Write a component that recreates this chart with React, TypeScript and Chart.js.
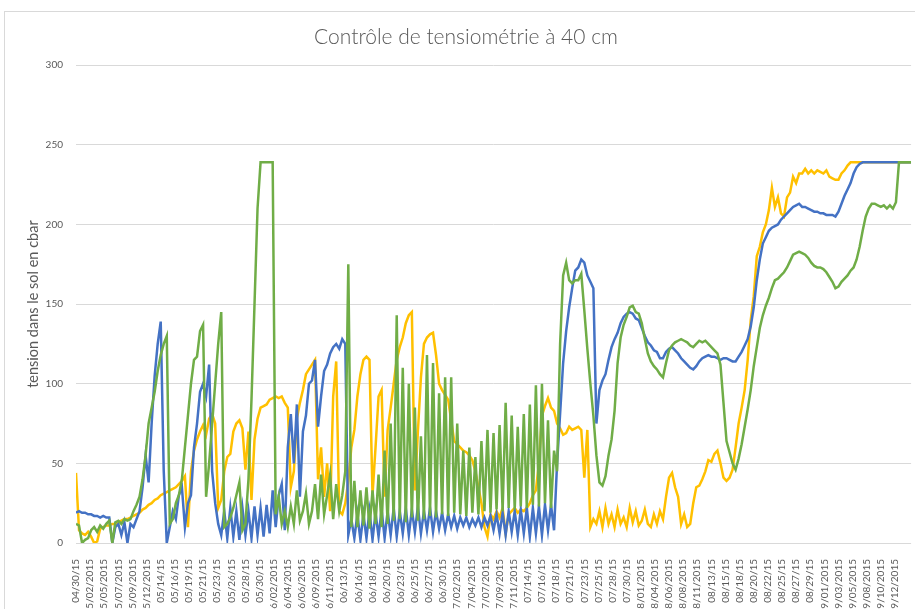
import { useEffect, useRef } from "react";
import { Chart, registerables } from "chart.js";

Chart.register(...registerables);

const TITLE = "Contrôle de tensiométrie à 40 cm";
const Y_TITLE = "tension dans le sol en cbar";

// Date tick labels (one every 7/3 days, as in the original workbook axis)
const tickLabels = [
  "04/30/15", "05/02/2015", "05/05/2015", "05/07/2015", "05/09/2015", "05/12/2015",
  "05/14/15", "05/16/15", "05/19/15", "05/21/15", "05/23/15", "05/26/15", "05/28/15",
  "05/30/15", "06/02/2015", "06/04/2015", "06/06/2015", "06/09/2015", "06/11/2015",
  "06/13/15", "06/16/15", "06/18/15", "06/20/15", "06/23/15", "06/25/15", "06/27/15",
  "06/30/15", "07/02/2015", "07/04/2015", "07/07/2015", "07/09/2015", "07/11/2015",
  "07/14/15", "07/16/15", "07/18/15", "07/21/15", "07/23/15", "07/25/15", "07/28/15",
  "07/30/15", "08/01/2015", "08/04/2015", "08/06/2015", "08/08/2015", "08/11/2015",
  "08/13/15", "08/15/15", "08/18/15", "08/20/15", "08/22/15", "08/25/15", "08/27/15",
  "08/29/15", "09/01/2015", "09/03/2015", "09/05/2015", "09/08/2015", "09/10/2015",
  "09/12/2015",
];
const DAYS_PER_TICK = 7 / 3;
const SAMPLES_PER_DAY = 2; // readings every 12 h starting 04/30/15
const LAST_DAY = 138;

// blue sensor (cbar), two readings per day
const blue = [
  19, 20, 19, 19, 18, 18, 17, 17, 16, 17,
  16, 16, 0, 10, 12, 5, 13, 0, 12, 10,
  15, 20, 35, 55, 38, 75, 105, 125, 139, 45,
  0, 10, 20, 15, 30, 35, 10, 25, 30, 60,
  75, 95, 100, 92, 112, 45, 25, 12, 5, 20,
  3, 22, 4, 20, 2, 22, 5, 20, 3, 23,
  5, 22, 4, 24, 6, 33, 10, 30, 37, 8,
  60, 81, 50, 87, 29, 70, 80, 100, 102, 115,
  73, 92, 108, 112, 119, 123, 125, 122, 128, 125,
  5, 15, 3, 18, 2, 18, 3, 20, 2, 19,
  4, 21, 3, 20, 5, 22, 4, 20, 6, 22,
  5, 21, 7, 23, 6, 20, 8, 22, 7, 20,
  9, 19, 8, 18, 10, 17, 9, 16, 11, 16,
  10, 15, 11, 16, 10, 16, 11, 17, 8, 18,
  6, 19, 5, 20, 7, 20, 5, 21, 6, 22,
  4, 22, 6, 23, 5, 24, 8, 24, 8, 50,
  81, 113, 133, 148, 160, 171, 173, 178, 176, 168,
  164, 160, 75, 96, 102, 106, 115, 123, 128, 132,
  138, 142, 144, 145, 144, 141, 140, 135, 130, 126,
  124, 121, 120, 116, 116, 120, 122, 123, 121, 119,
  116, 114, 112, 110, 109, 111, 114, 116, 117, 118,
  117, 117, 116, 115, 116, 116, 115, 114, 114, 117,
  120, 124, 128, 136, 148, 165, 178, 188, 192, 196,
  198, 199, 200, 203, 205, 207, 209, 211, 212, 213,
  211, 211, 210, 209, 208, 208, 207, 207, 206, 206,
  206, 205, 208, 213, 218, 222, 226, 232, 236, 238,
  239, 239, 239, 239, 239, 239, 239, 239, 239, 239,
  239, 239, 239, 239, 239, 239,
  239,
];

// orange sensor
const orange = [
  44, 8, 6, 5, 7, 4, 0, 1, 9, 10,
  11, 11, 12, 12, 13, 14, 15, 15, 16, 17,
  18, 19, 21, 22, 24, 25, 27, 28, 30, 31,
  32, 33, 34, 35, 37, 39, 42, 10, 45, 58,
  65, 70, 74, 68, 78, 81, 75, 22, 27, 45,
  54, 56, 70, 75, 77, 72, 46, 70, 27, 65,
  78, 85, 86, 87, 90, 91, 92, 91, 92, 88,
  85, 35, 45, 78, 88, 96, 106, 109, 112, 115,
  40, 60, 29, 50, 20, 92, 114, 20, 18, 25,
  39, 60, 71, 92, 106, 115, 117, 115, 30, 60,
  92, 96, 29, 71, 85, 100, 115, 123, 129, 138,
  143, 145, 33, 70, 104, 125, 129, 131, 132, 118,
  100, 96, 93, 90, 77, 64, 62, 60, 58, 57,
  55, 52, 45, 35, 25, 10, 4, 18, 15, 20,
  16, 22, 6, 18, 20, 22, 19, 21, 20, 22,
  25, 30, 33, 50, 80, 86, 91, 85, 83, 75,
  72, 68, 69, 73, 71, 72, 73, 71, 41, 71,
  10, 15, 12, 20, 10, 22, 12, 18, 10, 21,
  12, 16, 10, 22, 13, 20, 11, 14, 21, 12,
  10, 18, 12, 20, 15, 29, 41, 44, 35, 29,
  12, 18, 10, 12, 25, 35, 36, 40, 45, 52,
  51, 56, 58, 50, 41, 39, 41, 46, 60, 75,
  85, 96, 115, 140, 155, 180, 186, 195, 200, 209,
  223, 211, 217, 207, 205, 217, 220, 230, 226, 232,
  232, 235, 232, 234, 232, 234, 233, 232, 234, 230,
  229, 228, 228, 232, 234, 237, 239, 239, 239, 239,
  239, 239, 239, 239, 239, 239, 239, 239, 239, 239,
  239, 239, 239, 239, 239, 239,
  239,
];

// green sensor
const green = [
  12, 11, 0, 2, 3, 8, 10, 7, 11, 9,
  12, 14, 0, 13, 14, 12, 15, 14, 15, 20,
  24, 29, 40, 55, 75, 85, 95, 108, 118, 125,
  130, 12, 15, 25, 30, 40, 60, 80, 100, 115,
  117, 133, 137, 29, 50, 75, 100, 125, 145, 10,
  12, 16, 22, 30, 38, 8, 12, 40, 90, 150,
  210, 239, 239, 239, 239, 239, 18, 29, 12, 20,
  10, 23, 12, 33, 14, 20, 31, 12, 20, 37,
  15, 43, 18, 30, 43, 15, 37, 20, 30, 45,
  175, 10, 39, 10, 33, 11, 35, 9, 33, 12,
  43, 10, 58, 12, 75, 14, 143, 15, 110, 13,
  100, 16, 85, 14, 67, 15, 118, 17, 113, 16,
  94, 18, 104, 17, 104, 19, 75, 18, 58, 17,
  60, 19, 54, 18, 64, 20, 71, 19, 69, 21,
  74, 20, 88, 22, 80, 21, 73, 23, 81, 22,
  87, 24, 99, 23, 100, 25, 77, 22, 58, 45,
  125, 168, 176, 165, 163, 165, 165, 169, 146, 122,
  100, 80, 55, 38, 36, 42, 55, 65, 83, 113,
  129, 137, 142, 148, 149, 145, 144, 138, 128, 119,
  114, 111, 109, 106, 104, 113, 121, 124, 126, 127,
  128, 127, 126, 124, 123, 125, 127, 126, 127, 125,
  123, 121, 119, 112, 88, 64, 57, 50, 46, 53,
  62, 73, 84, 96, 111, 123, 135, 143, 149, 154,
  160, 165, 166, 168, 170, 173, 177, 181, 182, 183,
  182, 181, 179, 176, 174, 173, 173, 172, 170, 167,
  164, 160, 161, 164, 166, 168, 171, 173, 178, 186,
  196, 205, 210, 213, 213, 212, 211, 212, 210, 212,
  210, 214, 239, 239, 239, 239,
  239,
];

const TEXT = "#595959";
const FONT = "Lato, 'Open Sans', sans-serif";

export default function App() {
  const ref = useRef<HTMLCanvasElement | null>(null);

  useEffect(() => {
    if (!ref.current) return;
    const days = blue.map((_, i) => i / SAMPLES_PER_DAY);
    const line = (data: number[], color: string) => ({
      data,
      borderColor: color,
      backgroundColor: color,
      borderWidth: 2.5,
      pointRadius: 0,
      tension: 0,
      fill: false,
    });
    const chart = new Chart(ref.current, {
      type: "line",
      data: {
        labels: days,
        datasets: [
          line(green, "#70AD47"),
          line(blue, "#4472C4"),
          line(orange, "#FFC000"),
        ],
      },
      options: {
        responsive: false,
        animation: false,
        events: [],
        layout: { padding: { left: 20, right: 3, top: 0, bottom: 0 } },
        plugins: {
          legend: { display: false },
          tooltip: { enabled: false },
          title: {
            display: true,
            text: TITLE,
            color: TEXT,
            font: { family: FONT, size: 21, weight: "300" as any, lineHeight: 1.2 },
            padding: { top: 25, bottom: 15 },
          },
        },
        scales: {
          x: {
            type: "linear",
            min: 0,
            max: LAST_DAY,
            grid: { display: false },
            border: { display: false },
            afterBuildTicks: (s: any) => {
              s.ticks = tickLabels.map((_, k) => ({ value: k * DAYS_PER_TICK }));
            },
            afterFit: (s: any) => {
              s.height = 66;
            },
            ticks: {
              autoSkip: false,
              minRotation: 90,
              maxRotation: 90,
              padding: 8,
              color: TEXT,
              font: { family: FONT, size: 10 },
              callback: (_v: any, i: number) => tickLabels[i],
            },
          },
          y: {
            min: 0,
            max: 300,
            border: { display: false },
            grid: { color: "#D9D9D9", drawTicks: false, lineWidth: 1 },
            ticks: {
              stepSize: 50,
              padding: 13,
              color: TEXT,
              font: { family: FONT, size: 10 },
            },
            title: {
              display: true,
              text: Y_TITLE,
              color: TEXT,
              font: { family: FONT, size: 14.5 },
              padding: { top: 5, bottom: 0 },
            },
            afterFit: (s: any) => {
              s.width = 56;
            },
          },
        },
      },
    });
    return () => chart.destroy();
  }, []);

  return (
    <div
      style={{
        position: "absolute",
        left: 0,
        top: 0,
        width: 915,
        height: 609,
        background: "#ffffff",
        overflow: "hidden",
      }}
    >
      <div
        style={{
          position: "absolute",
          left: 4,
          top: 11,
          width: 960,
          height: 660,
          border: "1px solid #D9D9D9",
        }}
      />
      <canvas
        ref={ref}
        width={915}
        height={609}
        style={{ position: "absolute", left: 0, top: 0, width: 915, height: 609 }}
      />
    </div>
  );
}
